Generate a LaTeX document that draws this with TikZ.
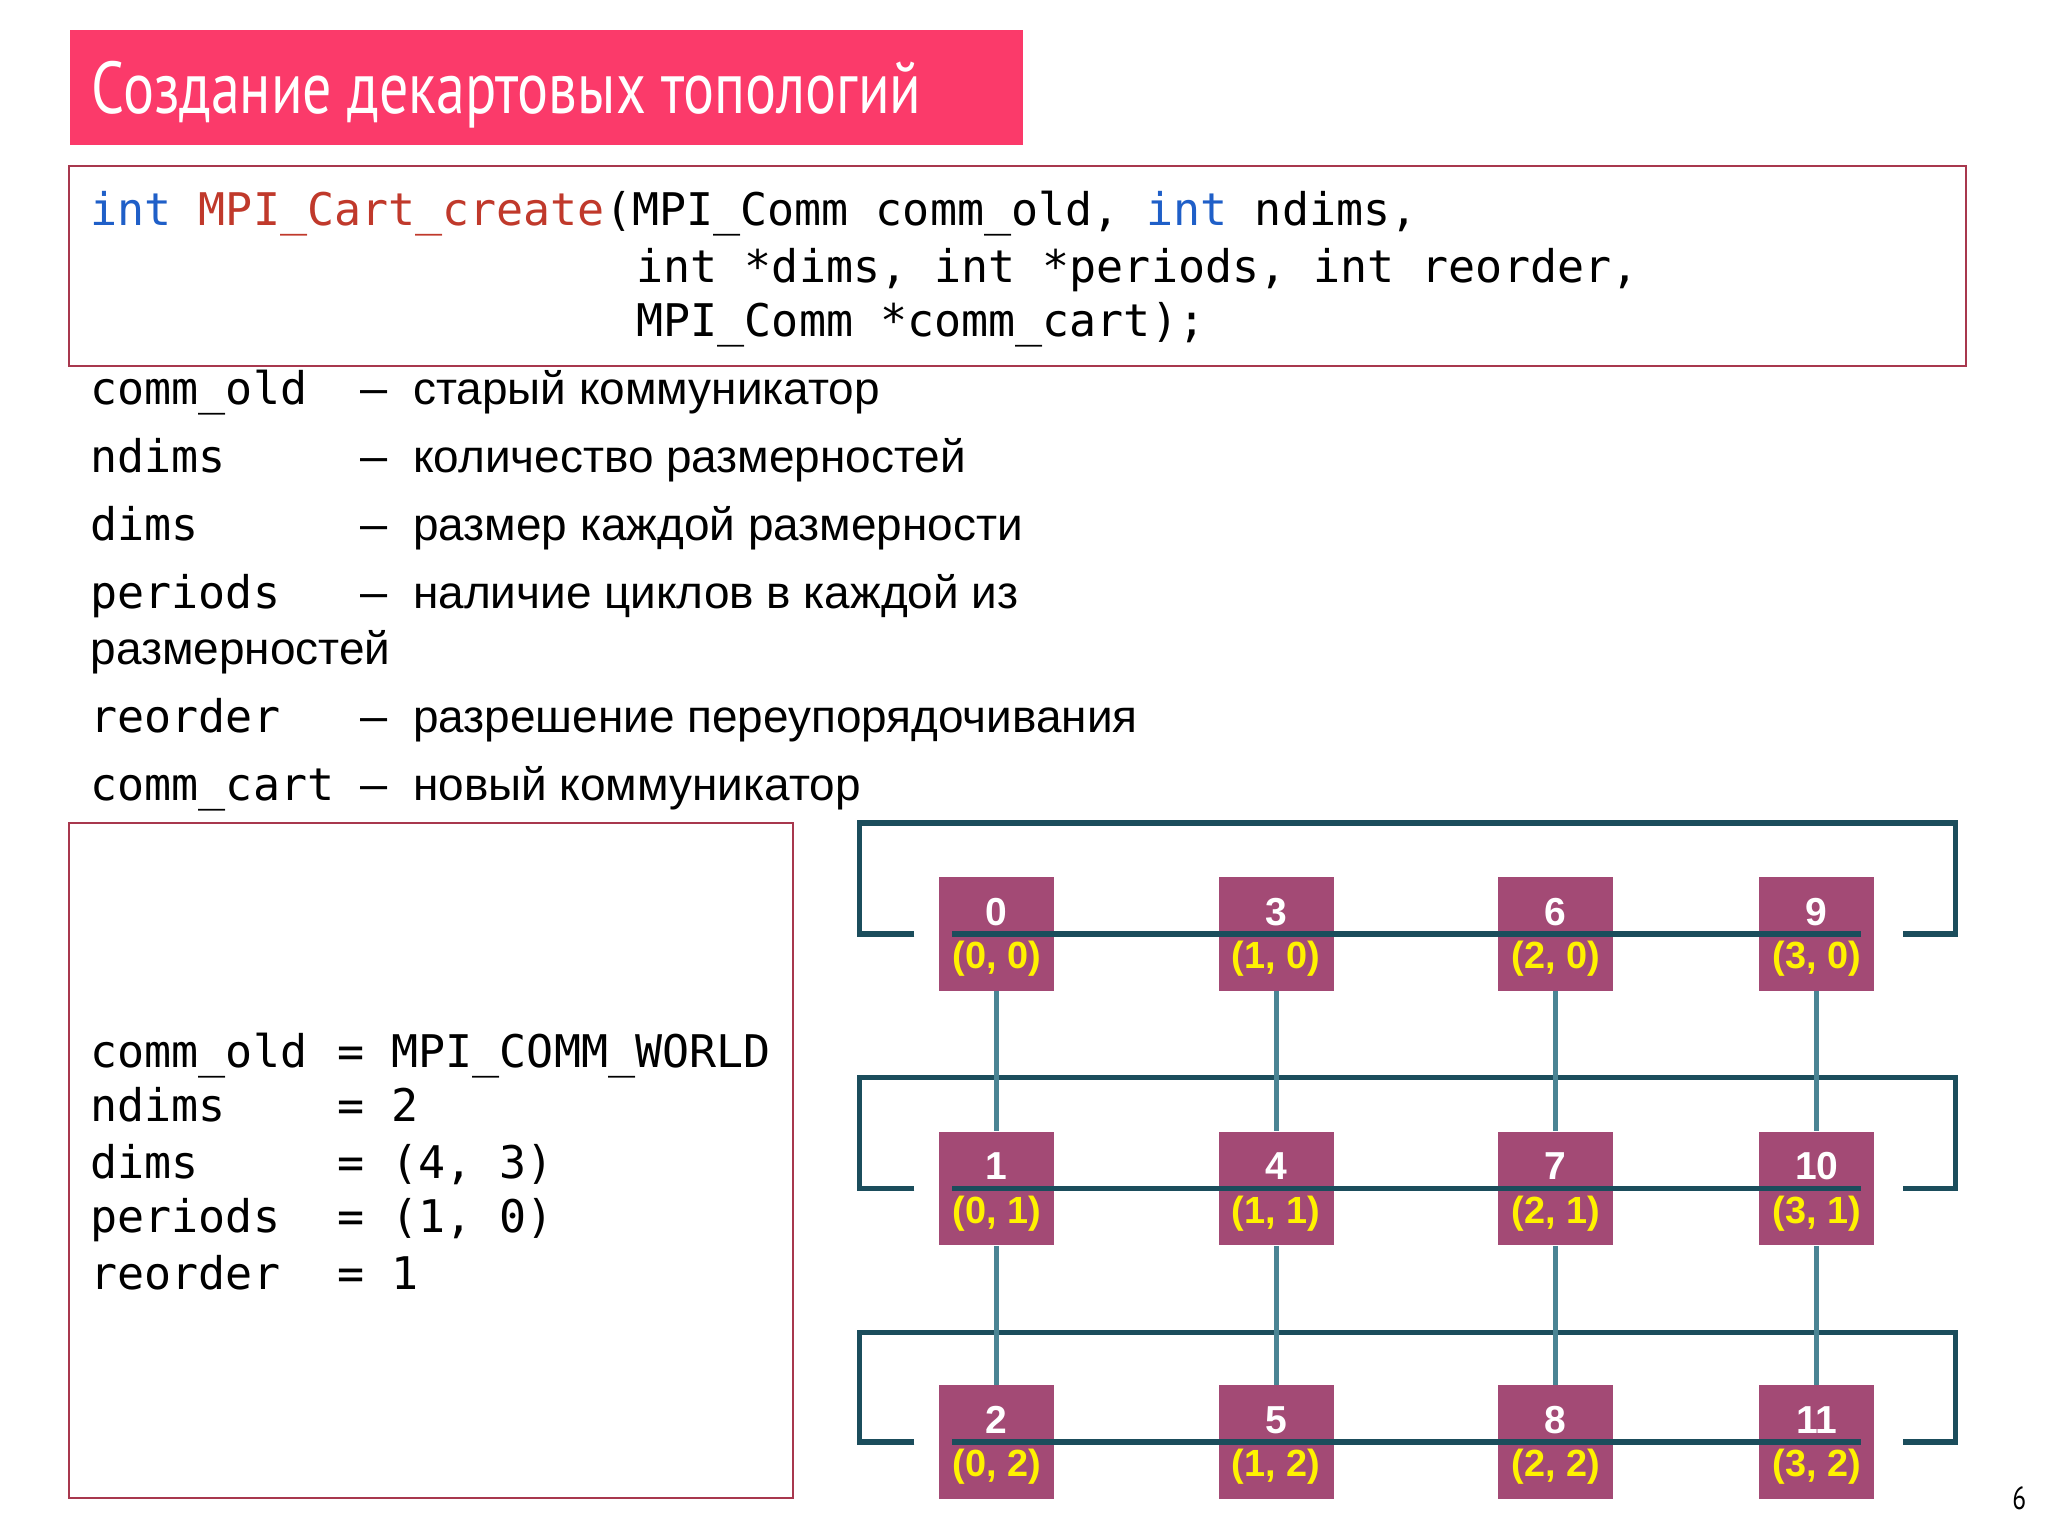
\documentclass[tikz,border=0pt]{standalone}
\usepackage{fontspec}
\setmainfont{Liberation Sans}
\setmonofont{DejaVu Sans Mono}
\newfontfamily\titlefont{PT Sans}[FakeStretch=0.79]
\definecolor{titlered}{HTML}{FB3A6A}
\definecolor{boxred}{HTML}{A8384E}
\definecolor{kwblue}{HTML}{1F5FC8}
\definecolor{fnred}{HTML}{C0392B}
\definecolor{cell}{HTML}{A34A75}
\definecolor{wrapc}{HTML}{1B4D5C}
\definecolor{vertc}{HTML}{4A8494}
\definecolor{coordy}{HTML}{FFF200}
\begin{document}
\begin{tikzpicture}[x=0.02cm,y=-0.02cm,
  code/.style={anchor=base west,inner sep=0pt,font=\fontsize{19.6}{24}\ttfamily},
  desc/.style={anchor=base west,inner sep=0pt,font=\fontsize{20}{24}\selectfont},
  cellbox/.style={fill=cell,minimum width=1.76cm,minimum height=1.74cm,inner sep=0pt},
  num/.style={font=\fontsize{17}{18}\bfseries,text=white},
  crd/.style={font=\fontsize{16.5}{18}\bfseries,text=coordy},
  wrap/.style={draw=wrapc,line width=2.3pt},
  vert/.style={draw=vertc,line width=2.2pt}]
\useasboundingbox (0,0) rectangle (1568,1176);
\fill[white] (0,0) rectangle (1568,1176);
% title
\node[fill=titlered,minimum width=14.6cm,minimum height=1.76cm,anchor=north west,inner sep=0pt] (title) at (53,23) {};
\node[anchor=base west,inner sep=0pt,text=white,font=\titlefont\fontsize{32}{36}\selectfont] (titletext) at (70,87) {Создание декартовых топологий};
% code box
\draw[boxred,line width=0.9pt] (53,127) rectangle (1505,280);
\node[code] (c1) at (69,173) {\textcolor{kwblue}{int} \textcolor{fnred}{MPI\_Cart\_create}(MPI\_Comm comm\_old, \textcolor{kwblue}{int} ndims,};
\node[code] (c2) at (487,216) {int *dims, int *periods, int reorder,};
\node[code] (c3) at (487,258) {MPI\_Comm *comm\_cart);};
% params
\foreach \n/\t/\y [count=\i] in {comm\_old/старый коммуникатор/310, ndims/количество размерностей/362, dims/размер каждой размерности/414, periods/наличие циклов в каждой из/466, reorder/разрешение переупорядочивания/561, comm\_cart/новый коммуникатор/613}{
  \node[code] (p\i) at (69,\y) {\n};
  \node[code] (d\i) at (276,\y) {–};
  \node[desc] (t\i) at (316,\y) {\t};
}
\node[desc] (t4b) at (69,509) {размерностей};
% values box
\draw[boxred,line width=0.9pt] (53,630) rectangle (607,1147);
\foreach \n/\v/\y [count=\i] in {comm\_old/MPI\_COMM\_WORLD/817, ndims/2/859, dims/{(4, 3)}/902, periods/{(1, 0)}/944, reorder/1/987}{
  \node[code] (vn\i) at (69,\y) {\n};
  \node[code] (vv\i) at (258,\y) {= \v};
}
% grid
\foreach \r/\yt/\ym in {0/630/715, 1/825/910, 2/1020/1104}{
  \draw[wrap] (700,\ym) -- (658,\ym) -- (658,\yt) -- (1497,\yt) -- (1497,\ym) -- (1457,\ym);
}
\foreach \c/\x in {0/763,1/977,2/1191,3/1391}{
  \foreach \r/\ym in {0/715,1/910,2/1104}{
    \node[cellbox] (n\c\r) at (\x,\ym) {};
  }
}
\foreach \r/\ym in {0/715,1/910,2/1104}{
  \draw[wrap] (729,\ym) -- (1425,\ym);
}
\foreach \c/\x in {0/763,1/977,2/1191,3/1391}{
  \foreach \r/\ym in {0/715,1/910,2/1104}{
    \pgfmathtruncatemacro{\rank}{\c*3+\r}
    \node[num] (l\c\r) at (\x,\ym-17) {\rank};
    \node[crd] (k\c\r) at (\x,\ym+19) {(\c, \r)};
  }
  \draw[vert] (n\c0.south) -- (n\c1.north);
  \draw[vert] (n\c1.south) -- (n\c2.north);
}
\node[font=\fontsize{14}{16}\titlefont] (page) at (1546,1147) {6};
\end{tikzpicture}
\end{document}
